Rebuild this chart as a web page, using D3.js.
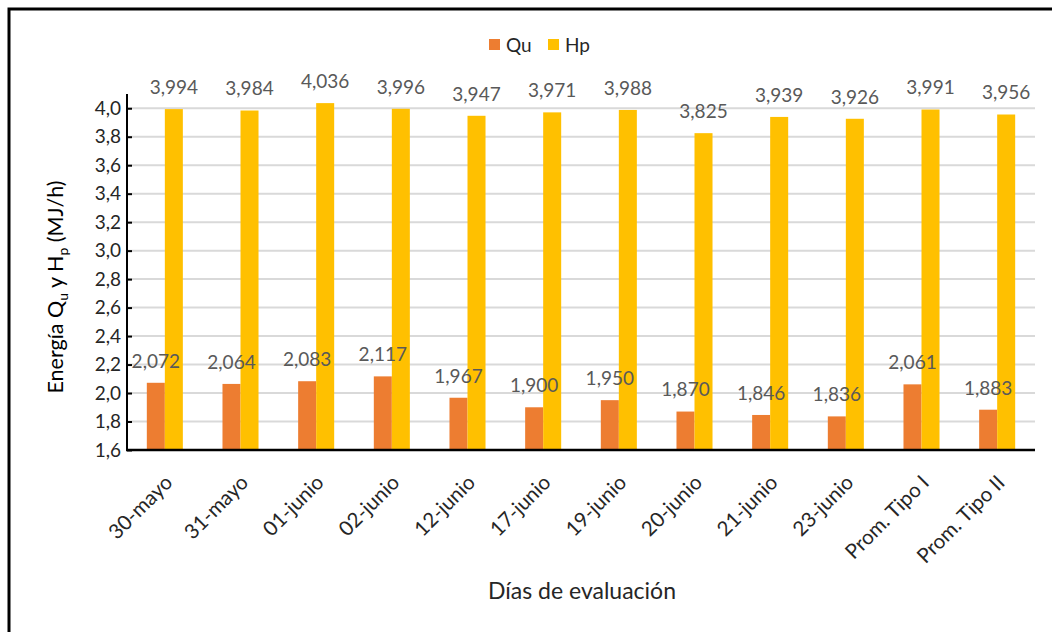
<!DOCTYPE html>
<html>
<head>
<meta charset="utf-8">
<script src="https://cdn.jsdelivr.net/npm/d3@7"></script>
<style>
  html, body { margin: 0; padding: 0; background: #fff; }
  svg { display: block; font-family: Lato, "Open Sans", sans-serif; }
</style>
</head>
<body>
<svg id="chart" width="1052" height="632"></svg>
<script>
const categories = ["30-mayo","31-mayo","01-junio","02-junio","12-junio","17-junio","19-junio","20-junio","21-junio","23-junio","Prom. Tipo I","Prom. Tipo II"];
const quValues = [2.072,2.064,2.083,2.117,1.967,1.900,1.950,1.870,1.846,1.836,2.061,1.883];
const hpValues = [3.994,3.984,4.036,3.996,3.947,3.971,3.988,3.825,3.939,3.926,3.991,3.956];
const seriesNames = ["Qu","Hp"];
const seriesColors = ["#ED7D31","#FFC000"];
const yTicks = [1.6,1.8,2.0,2.2,2.4,2.6,2.8,3.0,3.2,3.4,3.6,3.8,4.0];
const yDomain = [1.6, 4.1];

(function () {
const svg = d3.select("#chart");
const fmt3 = v => d3.format(".3f")(v).replace(".", ",");
const fmt1 = v => d3.format(".1f")(v).replace(".", ",");

// outer frame
svg.append("rect").attr("x", 9).attr("y", 9).attr("width", 1100).attr("height", 700)
  .attr("fill", "none").attr("stroke", "#000").attr("stroke-width", 3);

const pL = 127, pR = 1035, pT = 94, pB = 450;
const x0 = d3.scaleBand().domain(categories).range([pL, pR]).padding(0);
const x1 = d3.scaleBand().domain(seriesNames).range([0, x0.bandwidth()]).paddingInner(0).paddingOuter(1.1);
const y = d3.scaleLinear().domain(yDomain).range([pB, pT]);

// gridlines
svg.append("g").selectAll("line").data(yTicks.filter(t => t > 1.6)).join("line")
  .attr("x1", pL).attr("x2", pR)
  .attr("y1", d => y(d)).attr("y2", d => y(d))
  .attr("stroke", "#d9d9d9").attr("stroke-width", 2);

// bars
const data = categories.map((c, i) => ({ c, vals: [quValues[i], hpValues[i]] }));
const groups = svg.append("g").selectAll("g").data(data).join("g")
  .attr("transform", d => `translate(${x0(d.c)},0)`);
groups.selectAll("rect").data(d => d.vals.map((v, k) => ({ v, k }))).join("rect")
  .attr("x", d => x1(seriesNames[d.k]))
  .attr("width", x1.bandwidth())
  .attr("y", d => y(d.v))
  .attr("height", d => pB - y(d.v))
  .attr("fill", d => seriesColors[d.k]);

// y axis
const yAxis = d3.axisLeft(y).tickValues(yTicks).tickSize(-5).tickPadding(6).tickFormat(fmt1);
const gy = svg.append("g").attr("transform", `translate(${pL},0)`).call(yAxis);
gy.select(".domain").attr("stroke", "#000").attr("stroke-width", 2).attr("d", `M0,${pT}V${pB}`);
gy.selectAll(".tick line").attr("stroke", "#000").attr("stroke-width", 2);
gy.selectAll(".tick text").attr("font-size", 19).attr("fill", "#262626").attr("font-family", "Lato");

// x axis line
svg.append("line").attr("x1", pL - 1).attr("x2", pR).attr("y1", pB).attr("y2", pB)
  .attr("stroke", "#000").attr("stroke-width", 2.5);

// x tick labels
svg.append("g").selectAll("text").data(categories).join("text")
  .attr("transform", d => `translate(${x0(d) + x0.bandwidth() / 2 - 2},${pB + 23}) rotate(-45)`)
  .attr("text-anchor", "end").attr("dy", "0.75em")
  .attr("font-size", 20.5).attr("fill", "#262626")
  .text(d => d);

// data labels
groups.selectAll("text").data(d => d.vals.map((v, k) => ({ v, k }))).join("text")
  .attr("x", d => x1(seriesNames[d.k]) + x1.bandwidth() / 2)
  .attr("y", d => y(d.v) - 22)
  .attr("dy", "0.36em")
  .attr("text-anchor", "middle")
  .attr("font-size", 19).attr("fill", "#595959")
  .text(d => fmt3(d.v));

// legend
const legend = svg.append("g");
const legendItems = [{ name: "Qu", x: 489 }, { name: "Hp", x: 548 }];
legendItems.forEach((it, i) => {
  legend.append("rect").attr("x", it.x).attr("y", 39).attr("width", 11).attr("height", 11).attr("fill", seriesColors[i]);
  legend.append("text").attr("x", it.x + 17).attr("y", 45).attr("dy", "0.36em")
    .attr("font-size", 19).attr("fill", "#262626").text(it.name);
});

// y title
const yt = svg.append("text")
  .attr("transform", "translate(63,287) rotate(-90)")
  .attr("text-anchor", "middle").attr("font-size", 21.5).attr("fill", "#000");
yt.append("tspan").text("Energía Q");
yt.append("tspan").attr("font-size", 14).attr("dy", 5).text("u");
yt.append("tspan").attr("dy", -5).text(" y H");
yt.append("tspan").attr("font-size", 14).attr("dy", 5).text("p");
yt.append("tspan").attr("dy", -5).text(" (MJ/h)");

// x title
svg.append("text").attr("x", 582).attr("y", 599).attr("text-anchor", "middle")
  .attr("font-size", 23).attr("fill", "#262626").text("Días de evaluación");
})();
</script>
</body>
</html>
